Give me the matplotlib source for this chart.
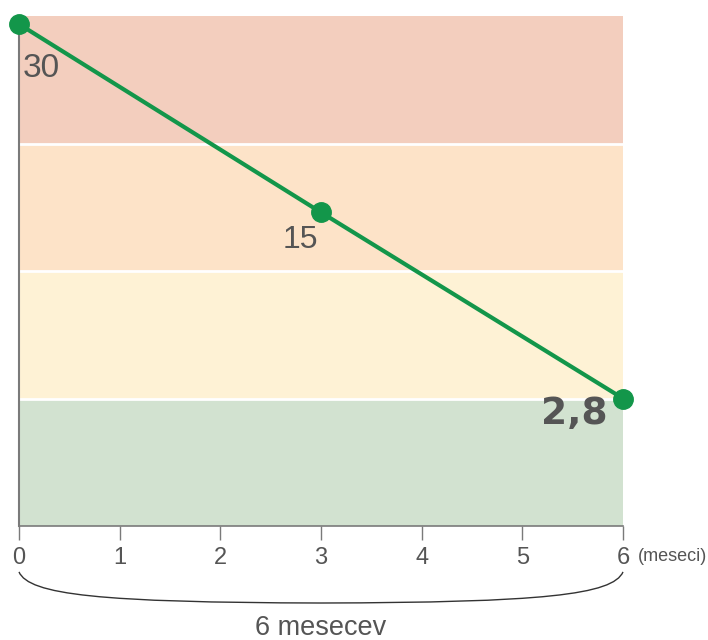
import numpy as np
import matplotlib.pyplot as plt
from matplotlib.path import Path
from matplotlib.patches import PathPatch
import matplotlib.transforms as mtransforms

plt.rcParams["font.family"] = ["Liberation Sans", "DejaVu Sans"]

# months and measured values
months = [0, 3, 6]
values = [30, 15, 2.8]
value_labels = ["30", "15", "2,8"]

# zone limits (each zone gets the same height on the axis)
zone_edges = [0, 2.8, 11, 19.7, 30.7]
zone_colors = ["#d2e2d0", "#fef2d5", "#fde3c8", "#f3cebe"]

xticks = [0, 1, 2, 3, 4, 5, 6]

levels = np.arange(len(zone_edges))


def fwd(v):
    return np.interp(v, zone_edges, levels)


def inv(l):
    return np.interp(l, levels, zone_edges)


fig = plt.figure(figsize=(7.08, 6.4), dpi=100)
ax = fig.add_axes([19 / 708, 114 / 640, 604 / 708, 510 / 640])
ax.set_yscale("function", functions=(fwd, inv))
ax.set_xlim(0, 6)
ax.set_ylim(zone_edges[0], zone_edges[-1])

for lo, hi, c in zip(zone_edges[:-1], zone_edges[1:], zone_colors):
    ax.axhspan(lo, hi, color=c, lw=0, zorder=0)
for e in zone_edges[1:-1]:
    ax.axhline(e, color="white", lw=2, zorder=1)

ax.plot(months, values, color="#13964a", lw=3, marker="o", markersize=14,
        zorder=5, clip_on=False)

# value labels
offsets = [(3, -32), (-15, -20), (-11, -11)]
aligns = ["left", "center", "right"]
sizes = [24, 23, 27]
weights = ["normal", "normal", "bold"]
families = [["Liberation Sans"], ["Liberation Sans"], ["DejaVu Sans"]]
for x, y, t, off, ha, fs, fw, fam in zip(months, values, value_labels,
                                         offsets, aligns, sizes, weights,
                                         families):
    ax.annotate(t, (x, y), xytext=off, textcoords="offset points",
                ha=ha, va="center", fontsize=fs, fontweight=fw,
                family=fam, color="#555555", zorder=6)

for s in ["top", "right"]:
    ax.spines[s].set_visible(False)
ax.spines["left"].set_color("#7a7a7a")
ax.spines["left"].set_linewidth(1.5)
ax.spines["bottom"].set_color("#7a7a7a")
ax.spines["bottom"].set_linewidth(1.2)

ax.set_yticks([])
ax.set_yticks([], minor=True)
ax.set_xticks(xticks)
ax.tick_params(axis="x", direction="out", length=10, width=1,
               color="#7a7a7a", pad=5, labelsize=17, labelcolor="#555555")

ax.annotate("(meseci)", (6, 0), xytext=(11, -22), textcoords="offset points",
            ha="left", va="center", fontsize=13, color="#555555",
            annotation_clip=False)

# brace under the axis
trans = mtransforms.blended_transform_factory(ax.transData, ax.transAxes)
verts = [(0, -0.09), (0.1, -0.135), (0.8, -0.15), (3, -0.151),
         (5.2, -0.15), (5.9, -0.135), (6, -0.09)]
codes = [Path.MOVETO] + [Path.CURVE4] * 6
brace = PathPatch(Path(verts, codes), facecolor="none", edgecolor="#333333",
                  lw=1, transform=trans, clip_on=False)
ax.add_patch(brace)

ax.text(3, -0.2, "6 mesecev", transform=trans, ha="center", va="center",
        fontsize=19.5, color="#555555")

fig.savefig("out.png", dpi=100)
